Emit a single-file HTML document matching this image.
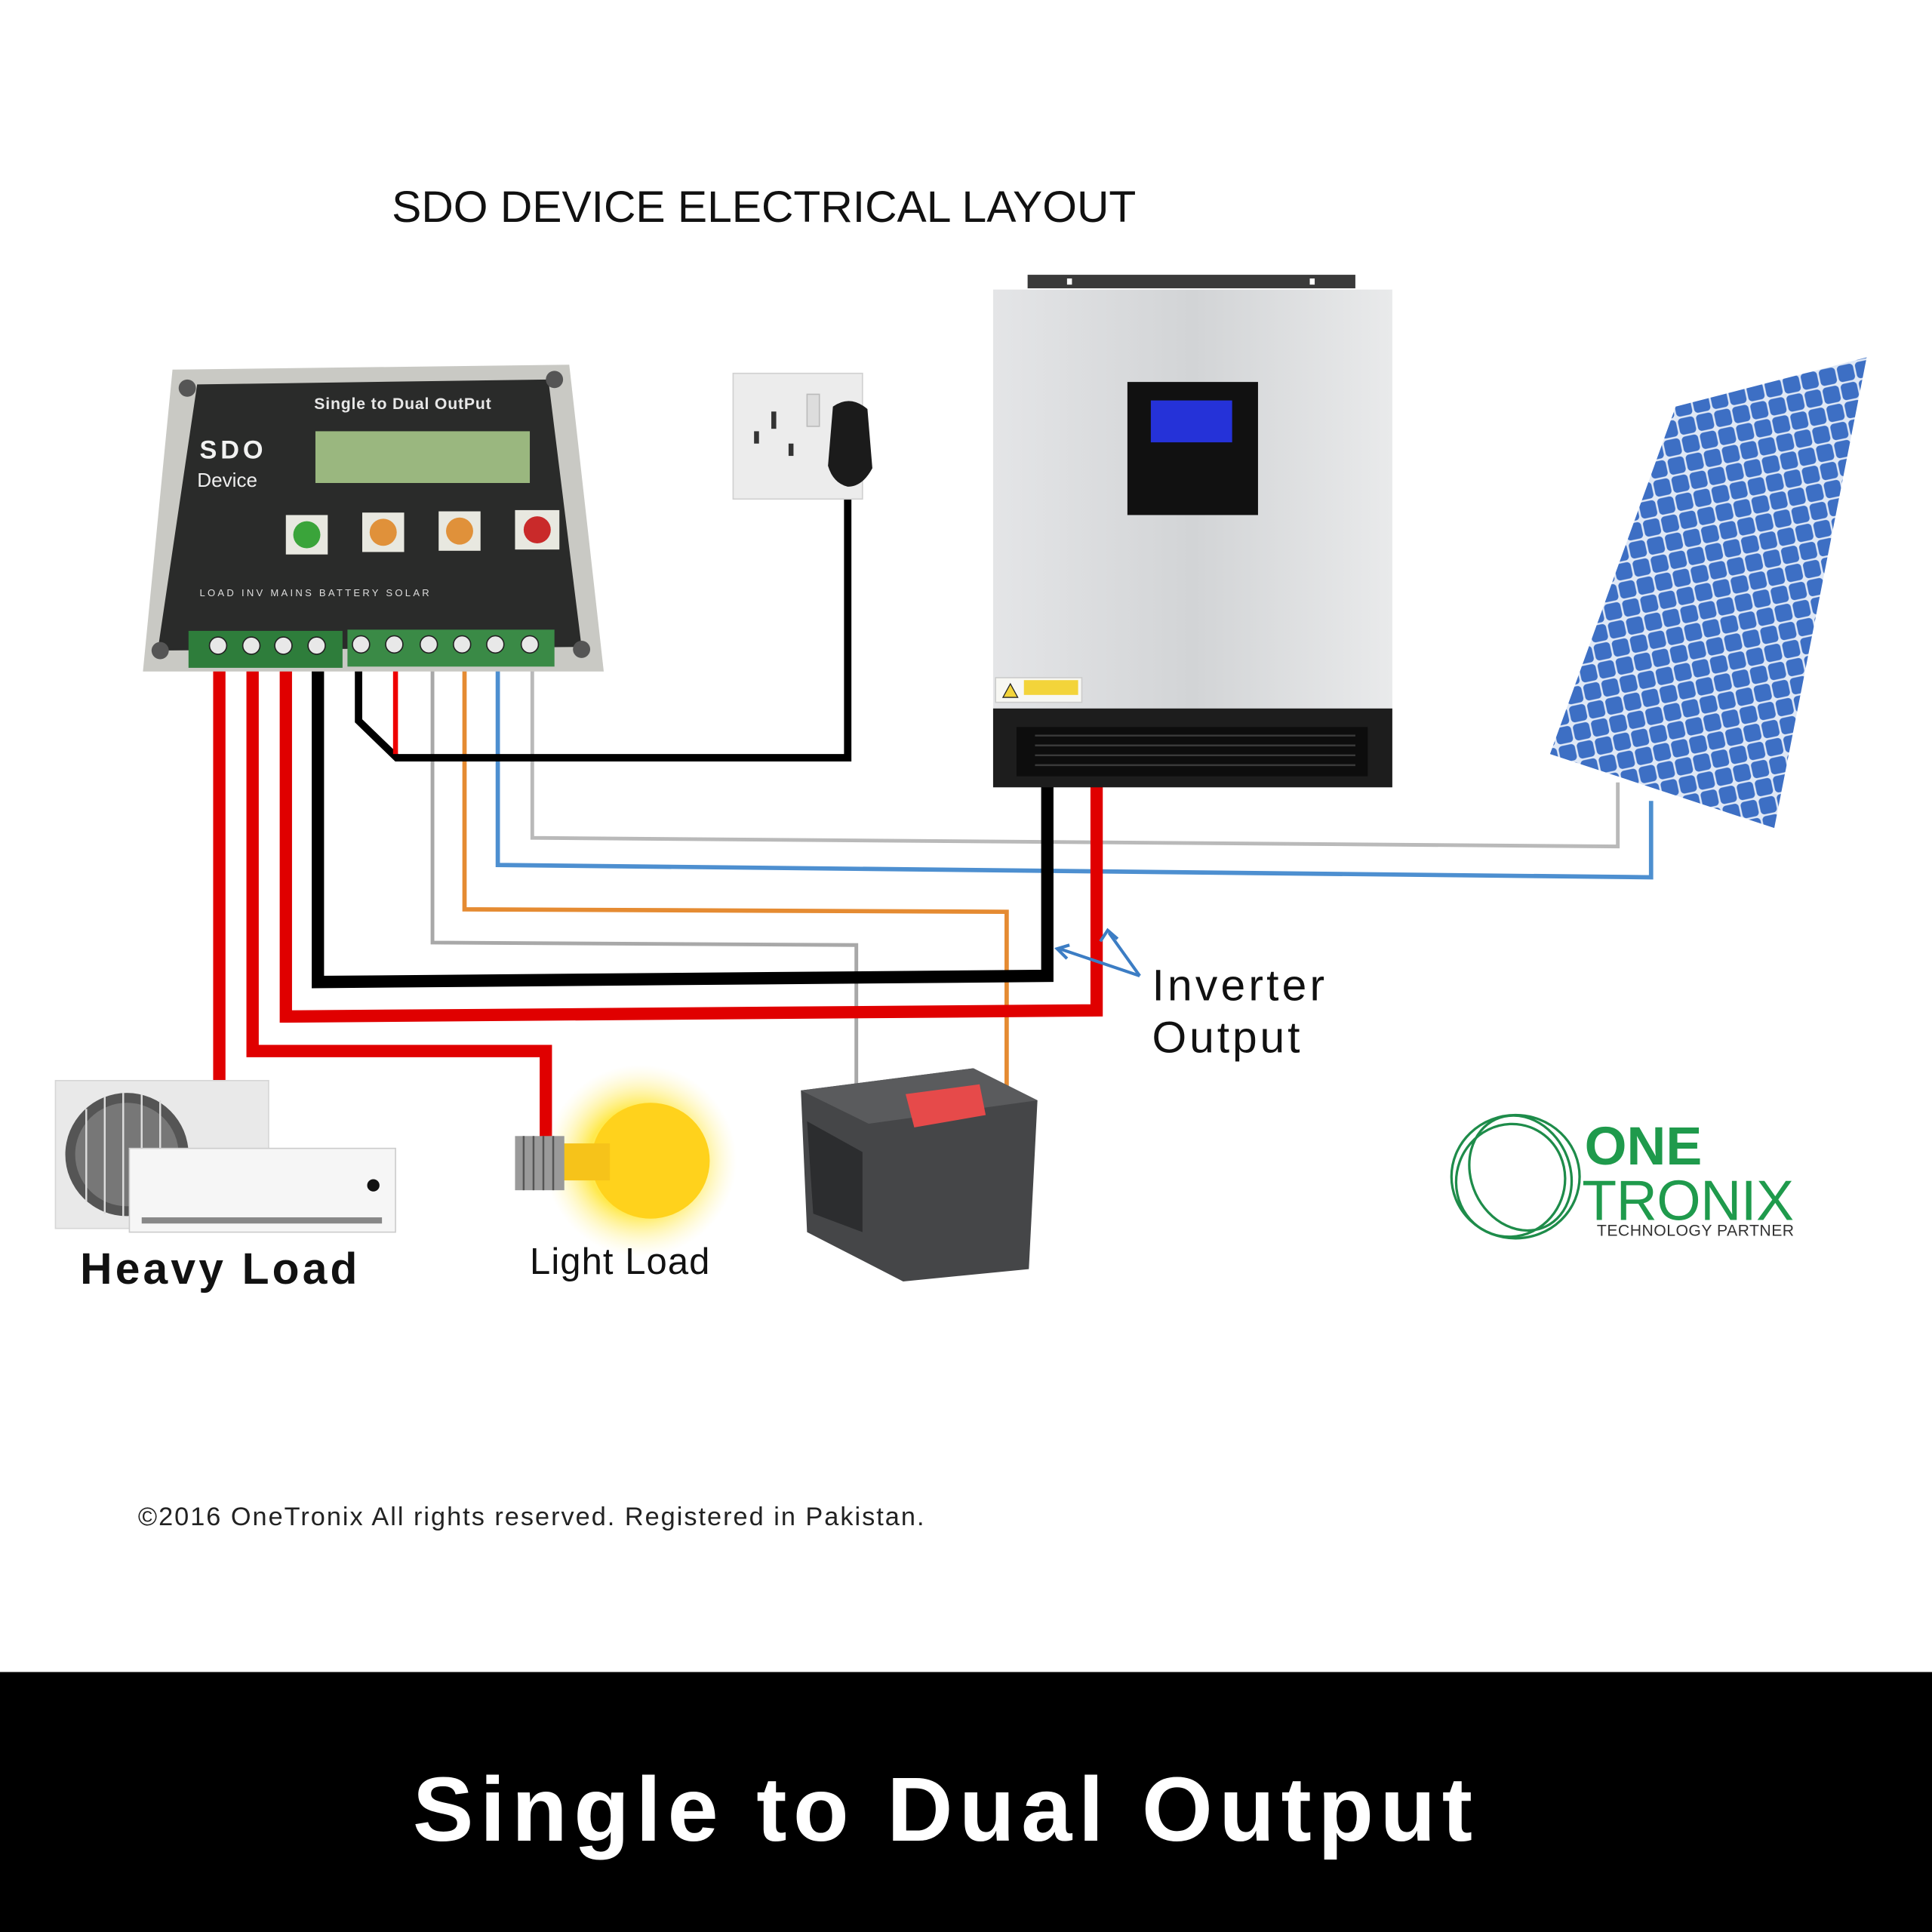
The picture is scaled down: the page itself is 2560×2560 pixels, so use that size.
<!DOCTYPE html>
<html><head><meta charset="utf-8"><style>
html,body{margin:0;padding:0;background:#fff;}
svg{display:block;}
text{font-family:"Liberation Sans","DejaVu Sans",sans-serif;}
</style></head><body>
<svg width="2560" height="2560" viewBox="0 0 1568 1568" xmlns="http://www.w3.org/2000/svg">
<defs>
<radialGradient id="glow" cx="50%" cy="50%" r="50%">
<stop offset="0" stop-color="#fff36a"/><stop offset="0.55" stop-color="#ffe94d"/><stop offset="1" stop-color="#fff7c0" stop-opacity="0"/>
</radialGradient>
<linearGradient id="inv" x1="0" x2="1"><stop offset="0" stop-color="#e4e5e7"/><stop offset="0.5" stop-color="#d2d4d6"/><stop offset="1" stop-color="#e9eaeb"/></linearGradient>
<pattern id="cells" width="15" height="15" patternUnits="userSpaceOnUse" patternTransform="rotate(-12)">
<rect width="15" height="15" fill="#dfe8f6"/><rect x="0.8" y="0.8" width="13.4" height="13.4" fill="#3d6fc4" rx="3"/>
</pattern>
</defs>
<rect width="1568" height="1568" fill="#fff"/>
<text x="318" y="180" font-size="36" fill="#111" textLength="604">SDO DEVICE ELECTRICAL LAYOUT</text>

<!-- wires -->
<g fill="none" stroke-linejoin="miter">
<polyline points="432,540 432,680 1313,687 1313,635" stroke="#b9b9b9" stroke-width="3"/>
<polyline points="404,540 404,702 1340,712 1340,650" stroke="#4d8fd0" stroke-width="3.5"/>
<polyline points="377,540 377,738 817,740 817,885" stroke="#e58b32" stroke-width="3.5"/>
<polyline points="351,540 351,765 695,767 695,905" stroke="#a8a8a8" stroke-width="3"/>
<polyline points="291,540 291,585 322,615 688,615 688,395" stroke="#000" stroke-width="6"/>
<polyline points="321,535 321,612" stroke="#e00" stroke-width="4"/>
<polyline points="258,540 258,797 850,792 850,638" stroke="#000" stroke-width="10"/>
<polyline points="232,540 232,825 890,820 890,630" stroke="#e00000" stroke-width="10"/>
<polyline points="205,540 205,853 443,853 443,925" stroke="#e00000" stroke-width="10"/>
<polyline points="178,540 178,880" stroke="#e00000" stroke-width="10"/>
</g>

<!-- SDO device -->
<polygon points="140,300 462,296 490,545 116,545" fill="#c9c9c4"/>
<polygon points="160,312 445,308 472,525 128,528" fill="#2a2b2a"/>
<circle cx="152" cy="315" r="7" fill="#555"/><circle cx="450" cy="308" r="7" fill="#555"/>
<circle cx="130" cy="528" r="7" fill="#555"/><circle cx="472" cy="527" r="7" fill="#555"/>
<text x="255" y="332" font-size="13" fill="#e8e8e8" font-weight="bold" letter-spacing="0.5">Single to Dual OutPut</text>
<text x="162" y="372" font-size="21" fill="#f2f2f2" font-weight="bold" letter-spacing="3">SDO</text>
<text x="160" y="395" font-size="16" fill="#eee">Device</text>
<rect x="256" y="350" width="174" height="42" fill="#9ab77f"/>
<rect x="232" y="418" width="34" height="32" fill="#e8e8e0"/><circle cx="249" cy="434" r="11" fill="#3aa43a"/>
<rect x="294" y="416" width="34" height="32" fill="#e8e8e0"/><circle cx="311" cy="432" r="11" fill="#e0913a"/>
<rect x="356" y="415" width="34" height="32" fill="#e8e8e0"/><circle cx="373" cy="431" r="11" fill="#e0913a"/>
<rect x="418" y="414" width="36" height="32" fill="#e8e8e0"/><circle cx="436" cy="430" r="11" fill="#c92a2a"/>
<text x="162" y="484" font-size="8" fill="#ddd" letter-spacing="2">LOAD    INV     MAINS  BATTERY  SOLAR</text>
<rect x="153" y="512" width="125" height="30" fill="#2e7d3b"/>
<rect x="282" y="511" width="168" height="30" fill="#3a8a46"/>
<g fill="#e8e8e8" stroke="#222" stroke-width="1">
<circle cx="177" cy="524" r="7"/><circle cx="204" cy="524" r="7"/><circle cx="230" cy="524" r="7"/><circle cx="257" cy="524" r="7"/>
<circle cx="293" cy="523" r="7"/><circle cx="320" cy="523" r="7"/><circle cx="348" cy="523" r="7"/><circle cx="375" cy="523" r="7"/><circle cx="402" cy="523" r="7"/><circle cx="430" cy="523" r="7"/>
</g>

<!-- outlet -->
<rect x="595" y="303" width="105" height="102" fill="#ececec" stroke="#d0d0d0"/>
<rect x="626" y="334" width="4" height="14" fill="#333"/><rect x="612" y="350" width="4" height="10" fill="#333"/><rect x="640" y="360" width="4" height="10" fill="#333"/>
<rect x="655" y="320" width="10" height="26" fill="#ddd" stroke="#bbb"/>
<path d="M676,330 Q690,320 704,332 L708,380 Q700,395 688,395 Q676,392 672,378 Z" fill="#1b1b1b"/>

<!-- inverter -->
<rect x="834" y="223" width="266" height="11" fill="#3a3a3a"/>
<rect x="866" y="226" width="4" height="5" fill="#fff"/><rect x="1063" y="226" width="4" height="5" fill="#fff"/>
<rect x="806" y="235" width="324" height="342" fill="url(#inv)"/>
<rect x="915" y="310" width="106" height="108" fill="#111"/>
<rect x="934" y="325" width="66" height="34" fill="#2532d8"/>
<rect x="808" y="550" width="70" height="20" fill="#f7f7f3" stroke="#ccc"/>
<rect x="831" y="552" width="44" height="12" fill="#f3d43a"/>
<polygon points="814,566 820,555 826,566" fill="#f3d43a" stroke="#222" stroke-width="0.8"/>
<rect x="806" y="575" width="324" height="64" fill="#1d1d1d"/>
<rect x="825" y="590" width="285" height="40" fill="#0d0d0d"/>
<g stroke="#3a3a3a" stroke-width="1.5"><line x1="840" y1="597" x2="1100" y2="597"/><line x1="840" y1="605" x2="1100" y2="605"/><line x1="840" y1="613" x2="1100" y2="613"/><line x1="840" y1="621" x2="1100" y2="621"/></g>

<!-- solar panel -->
<polygon points="1360,330 1515,290 1440,672 1258,612" fill="url(#cells)"/>

<!-- arrows -->
<g stroke="#3c7dc4" stroke-width="2.5" fill="none">
<line x1="925" y1="792" x2="860" y2="770"/><line x1="925" y1="792" x2="900" y2="757"/>
<polyline points="868,767 858,770 866,778"/><polyline points="893,764 899,755 907,762"/>
</g>
<text x="935" y="812" font-size="36" fill="#111" textLength="140">Inverter</text>
<text x="935" y="854" font-size="36" fill="#111" textLength="120">Output</text>

<!-- AC -->
<rect x="45" y="877" width="173" height="120" fill="#e9e9e9" stroke="#d6d6d6"/>
<circle cx="103" cy="937" r="50" fill="#555"/>
<circle cx="103" cy="937" r="42" fill="#777"/>
<g stroke="#ddd" stroke-width="1.5"><line x1="70" y1="900" x2="70" y2="975"/><line x1="85" y1="890" x2="85" y2="985"/><line x1="100" y1="887" x2="100" y2="987"/><line x1="115" y1="888" x2="115" y2="986"/><line x1="130" y1="893" x2="130" y2="980"/></g>
<rect x="105" y="932" width="216" height="68" fill="#f6f6f6" stroke="#ccc"/>
<circle cx="303" cy="962" r="5" fill="#111"/>
<rect x="115" y="988" width="195" height="5" fill="#888"/>
<text x="65" y="1042" font-size="36" font-weight="bold" fill="#111" textLength="225">Heavy Load</text>

<!-- bulb -->
<circle cx="520" cy="942" r="78" fill="url(#glow)"/>
<ellipse cx="528" cy="942" rx="48" ry="47" fill="#ffd21c"/>
<rect x="455" y="928" width="40" height="30" fill="#f6c31a"/>
<rect x="418" y="922" width="40" height="44" fill="#9a9a9a"/>
<g stroke="#555" stroke-width="1.5"><line x1="425" y1="922" x2="425" y2="966"/><line x1="433" y1="922" x2="433" y2="966"/><line x1="441" y1="922" x2="441" y2="966"/><line x1="449" y1="922" x2="449" y2="966"/></g>
<text x="430" y="1034" font-size="30" fill="#111" textLength="146">Light Load</text>

<!-- battery -->
<polygon points="650,885 790,867 842,893 835,1030 733,1040 655,1000" fill="#454648"/>
<polygon points="650,885 790,867 842,893 705,912" fill="#5a5b5d"/>
<polygon points="735,888 795,880 800,905 742,915" fill="#e64a4a"/>
<polygon points="655,910 700,935 700,1000 660,985" fill="#2c2d2f"/>

<!-- logo -->
<g fill="none" stroke="#1e8c4a" stroke-width="2">
<ellipse cx="1230" cy="955" rx="52" ry="50"/><ellipse cx="1226" cy="958" rx="44" ry="46" transform="rotate(20 1226 958)"/><ellipse cx="1234" cy="952" rx="40" ry="48" transform="rotate(-25 1234 952)"/>
</g>
<text x="1286" y="945" font-size="44" font-weight="bold" fill="#1f9a4c">ONE</text>
<text x="1284" y="990" font-size="46" fill="#1f9a4c" textLength="172">TRONIX</text>
<text x="1296" y="1003" font-size="13" fill="#333" textLength="160">TECHNOLOGY PARTNER</text>

<text x="112" y="1238" font-size="21" fill="#222" textLength="638">©2016 OneTronix All rights reserved. Registered in Pakistan.</text>

<rect x="0" y="1357" width="1568" height="211" fill="#000"/>
<text x="335" y="1494" font-size="74" font-weight="bold" fill="#fff" textLength="860">Single to Dual Output</text>
</svg>
</body></html>
